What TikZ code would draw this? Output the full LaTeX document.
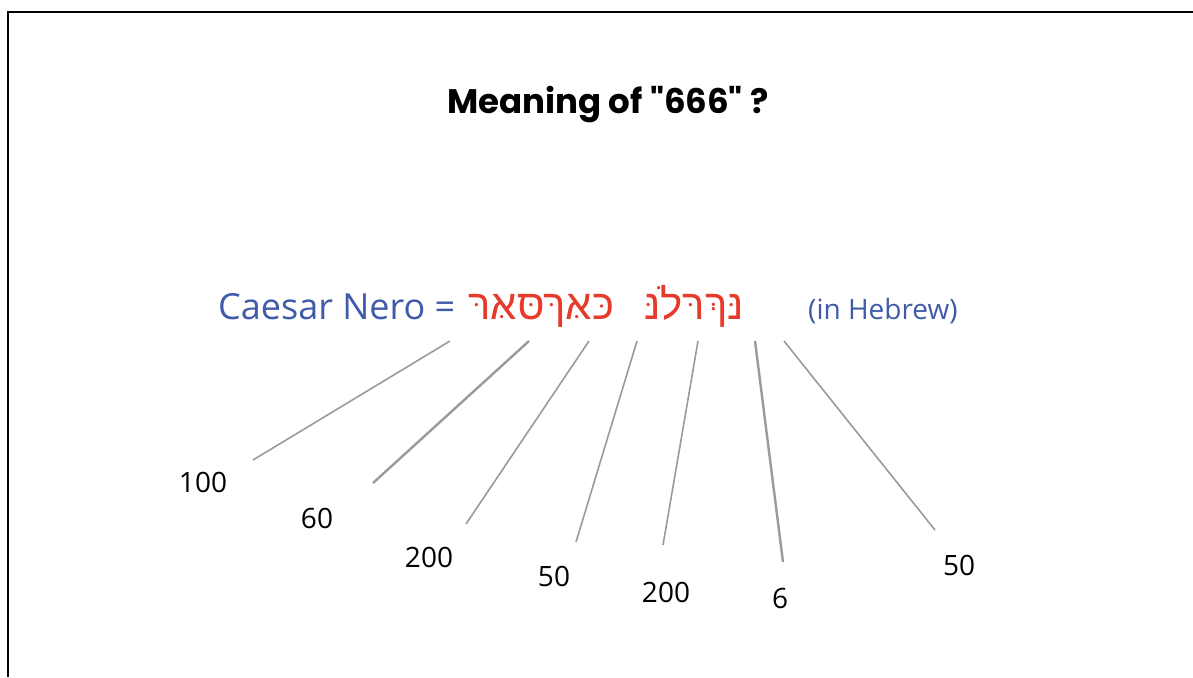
\documentclass[tikz,border=0pt]{standalone}
\usepackage{fontspec}
\setmainfont{Open Sans}
\newfontfamily\titlefont{Poppins}
\newfontfamily\hebfont[Script=Hebrew]{Liberation Sans}
\TeXXeTstate=1
\definecolor{nameblue}{HTML}{3F5BA9}
\definecolor{hebred}{HTML}{E63B2A}
\definecolor{linegray}{HTML}{9A9A9A}
\tikzset{
  num/.style={anchor=base, inner sep=0pt, font=\fontsize{28}{32}\selectfont, text=black},
  link/.style={draw=linegray, line width=1.6pt},
  linkthick/.style={draw=linegray, line width=2.4pt},
}
\begin{document}
\begin{tikzpicture}[x=1pt,y=-1pt]
\useasboundingbox (0,0) rectangle (1193,677);
\draw[line width=2pt] (8,677) -- (8,12.5) -- (1193,12.5);
% title
\node[anchor=base, inner sep=0pt, font=\titlefont\bfseries\fontsize{34}{40}\selectfont] (title) at (608,113) {Meaning of "666" ?};
% name line
\node[anchor=base west, inner sep=0pt, text=nameblue, font=\fontsize{36}{42}\selectfont] (name) at (218,319) {Caesar Nero =};
\node[anchor=base west, inner sep=0pt, text=hebred, font=\hebfont\fontsize{42}{46}\selectfont] (heb) at (468,319) {\beginR נּךְרּלֹנּ\hspace{30pt}כּאּךּסּאּרּ\endR};
\node[anchor=base west, inner sep=0pt, text=nameblue, font=\fontsize{28}{32}\selectfont] (inheb) at (808,319) {(in Hebrew)};
% numbers
\node[num] (n1) at (203,492) {100};
\node[num] (n2) at (317,528) {60};
\node[num] (n3) at (429,567) {200};
\node[num] (n4) at (554,586) {50};
\node[num] (n5) at (666,602) {200};
\node[num] (n6) at (780,608) {6};
\node[num] (n7) at (959,575) {50};
% connector ends
\coordinate (t1) at (450,341); \coordinate (b1) at (253,460);
\coordinate (t2) at (529,341); \coordinate (b2) at (373,483);
\coordinate (t3) at (589,341); \coordinate (b3) at (466,524);
\coordinate (t4) at (637,341); \coordinate (b4) at (576,542);
\coordinate (t5) at (698,341); \coordinate (b5) at (663,545);
\coordinate (t6) at (755,341); \coordinate (b6) at (783,562);
\coordinate (t7) at (784,341); \coordinate (b7) at (935,530);
\draw[link] (t1) -- (b1);
\draw[linkthick] (t2) -- (b2);
\draw[link] (t3) -- (b3);
\draw[link] (t4) -- (b4);
\draw[link] (t5) -- (b5);
\draw[linkthick] (t6) -- (b6);
\draw[link] (t7) -- (b7);
\end{tikzpicture}
\end{document}
